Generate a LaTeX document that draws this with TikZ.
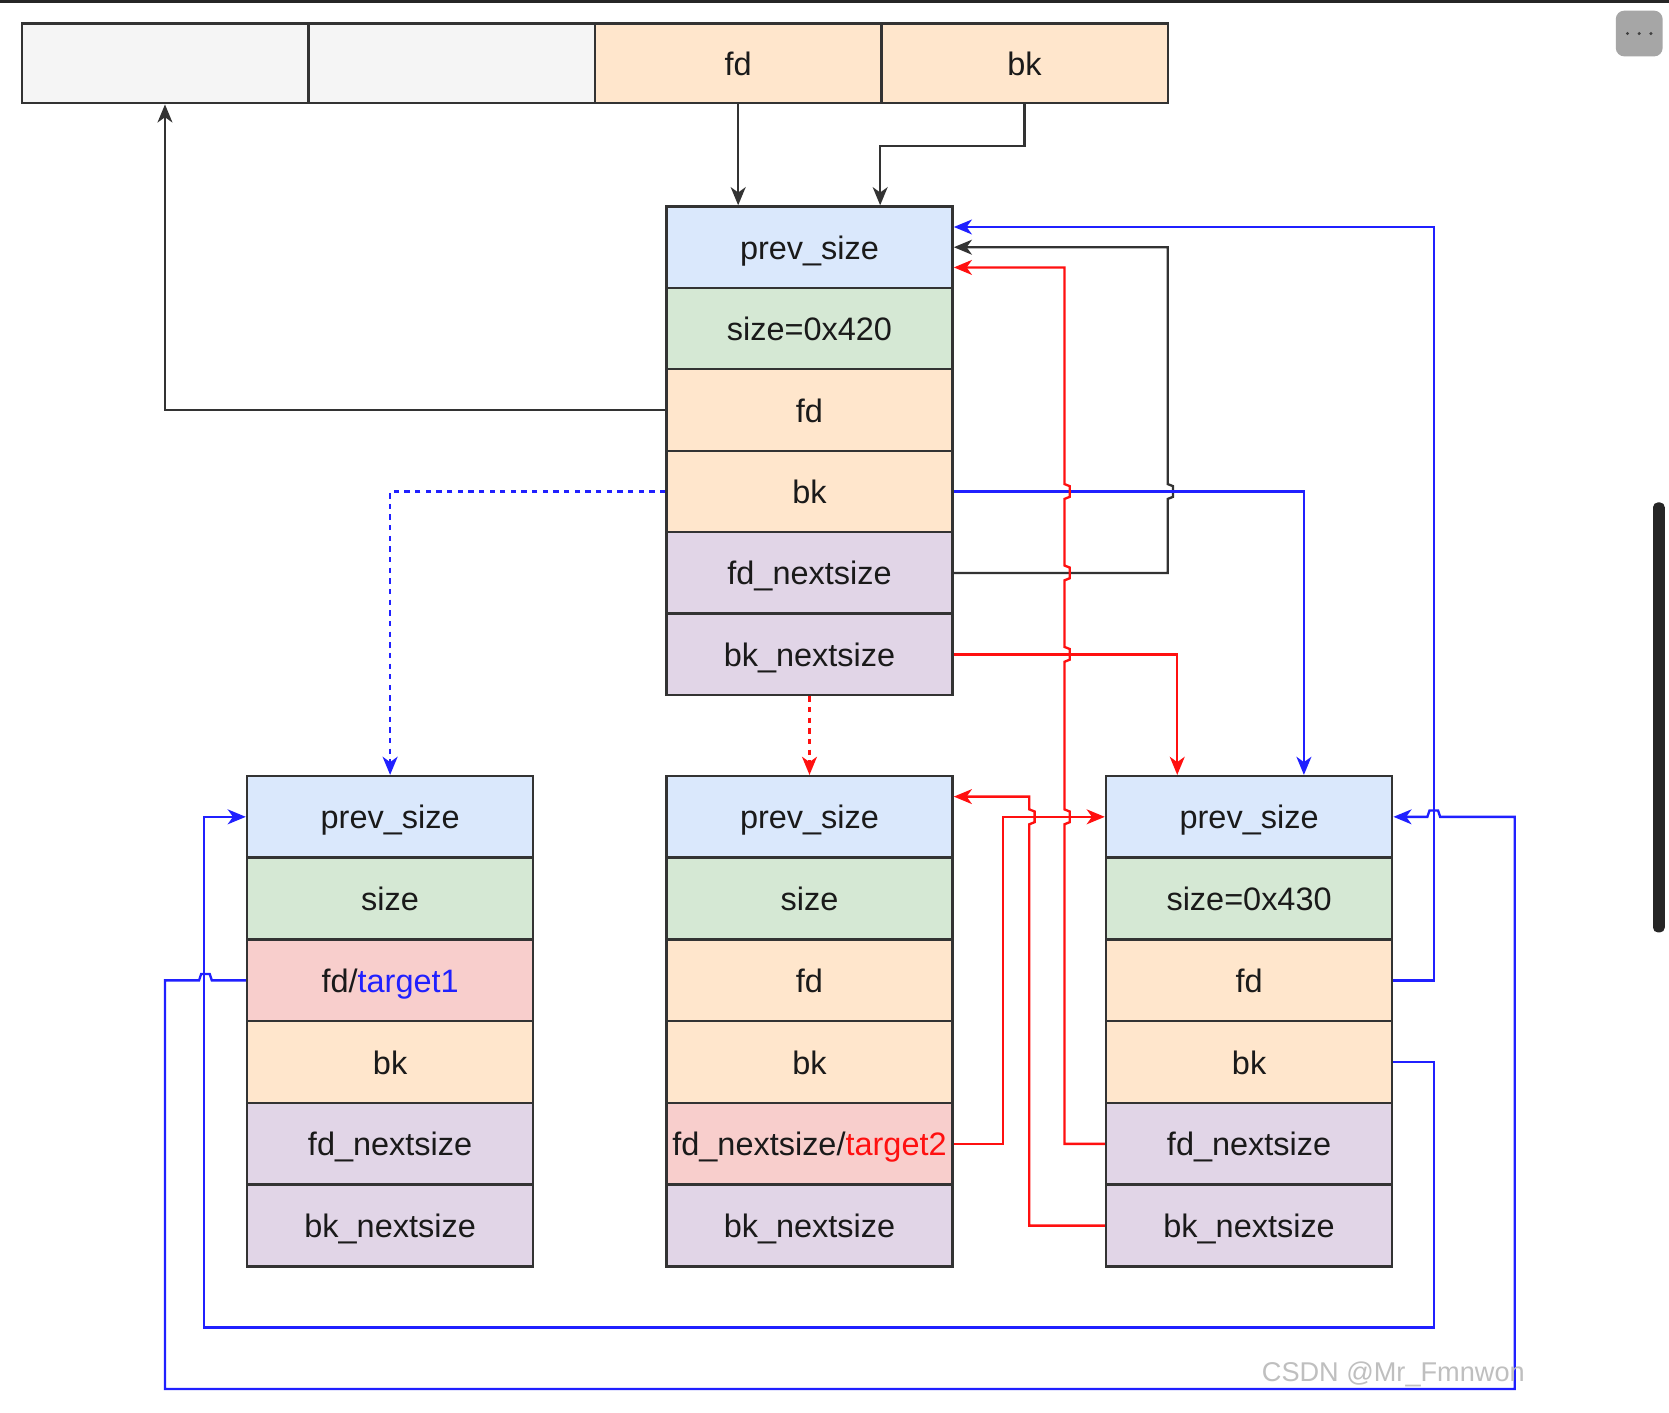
\documentclass[tikz,border=0pt]{standalone}
\usepackage{fontspec}
\setmainfont{Liberation Sans}
\usetikzlibrary{arrows.meta,calc}
\definecolor{cgray}{HTML}{F5F5F5}
\definecolor{cblue}{HTML}{DAE8FC}
\definecolor{cgreen}{HTML}{D5E8D4}
\definecolor{cpeach}{HTML}{FFE6CC}
\definecolor{cpurple}{HTML}{E1D5E7}
\definecolor{cred}{HTML}{F8CECC}
\definecolor{cstroke}{HTML}{333333}
\definecolor{ctext}{HTML}{1A1A1A}
\definecolor{lblue}{HTML}{2020FF}
\definecolor{lred}{HTML}{FF1010}
\definecolor{lblack}{HTML}{333333}
\begin{document}
\begin{tikzpicture}[x=1pt,y=-1pt,
  cell/.style={draw=cstroke, line width=2.2pt, minimum width=269pt, minimum height=76.6pt,
    inner sep=1pt, font=\fontsize{30.5}{36}\selectfont, text=ctext, anchor=center,
    text height=24pt, text depth=1.5pt},
  topcell/.style={cell, minimum height=75pt},
  pbl/.style={cell, fill=cblue},
  pgr/.style={cell, fill=cgreen},
  ppe/.style={cell, fill=cpeach},
  ppu/.style={cell, fill=cpurple},
  pre/.style={cell, fill=cred},
  arr/.style={-{Stealth[length=17pt,width=14pt,inset=5pt]}},
  wire/.style={line width=2.2pt, line join=miter},
  bw/.style={wire, draw=lblack},
  uw/.style={wire, draw=lblue},
  rw/.style={wire, draw=lred},
  dsh/.style={dash pattern=on 5pt off 5pt, line width=2.6pt}
]
\useasboundingbox (0,0) rectangle (1568,1327);
\fill[white] (0,0) rectangle (1568,1327);

% screenshot frame details
\fill[black!85] (0,0) rectangle (1568,2.5);
\fill[black!35, rounded corners=8pt] (1518,10) rectangle (1562,53);
\foreach \dx in {1529,1540,1551} \fill[black!75] (\dx,31.5) circle (1.6pt);
\fill[black!85, rounded corners=4.5pt] (1553,472) rectangle (1564,876);

% top bar
\node[topcell, fill=cgray] (t1)  at (155,59.5) {};
\node[topcell, fill=cgray] (t2)  at (424.5,59.5) {};
\node[topcell, fill=cpeach] (tfd) at (693.5,59.5) {fd};
\node[topcell, fill=cpeach] (tbk) at (962.5,59.5) {bk};

% main chunk
\node[pbl] (m1) at (760.5,232.25) {prev\_size};
\node[pgr] (m2) at (760.5,308.75) {size=0x420};
\node[ppe] (m3) at (760.5,385.25) {fd};
\node[ppe] (m4) at (760.5,461.75) {bk};
\node[ppu] (m5) at (760.5,538.25) {fd\_nextsize};
\node[ppu] (m6) at (760.5,614.75) {bk\_nextsize};

% left chunk
\node[pbl] (L1) at (366.5,767.4) {prev\_size};
\node[pgr] (L2) at (366.5,844.2) {size};
\node[pre] (L3) at (366.5,921) {fd/\textcolor{lblue}{target1}};
\node[ppe] (L4) at (366.5,997.8) {bk};
\node[ppu] (L5) at (366.5,1074.6) {fd\_nextsize};
\node[ppu] (L6) at (366.5,1151.4) {bk\_nextsize};

% middle chunk
\node[pbl] (M1) at (760.5,767.4) {prev\_size};
\node[pgr] (M2) at (760.5,844.2) {size};
\node[ppe] (M3) at (760.5,921) {fd};
\node[ppe] (M4) at (760.5,997.8) {bk};
\node[pre] (M5) at (760.5,1074.6) {fd\_nextsize/\textcolor{lred}{target2}};
\node[ppu] (M6) at (760.5,1151.4) {bk\_nextsize};

% right chunk
\node[pbl] (R1) at (1173.5,767.4) {prev\_size};
\node[pgr] (R2) at (1173.5,844.2) {size=0x430};
\node[ppe] (R3) at (1173.5,921) {fd};
\node[ppe] (R4) at (1173.5,997.8) {bk};
\node[ppu] (R5) at (1173.5,1074.6) {fd\_nextsize};
\node[ppu] (R6) at (1173.5,1151.4) {bk\_nextsize};

% black connectors
\draw[bw,arr] (tfd.south) -- (tfd.south |- m1.north);
\draw[bw,arr] (tbk.south) -- ++(0,39) -| (tbk.south west |- m1.north);
\draw[bw,arr] (m3.west) -| (t1.south);
\draw[bw,arr] (m5.east) -| (1097,468.75) -- (1102,466.75) -- (1102,456.75) -- (1097,454.75)
  -- (1097,232.25) -- (m1.east);

% blue connectors
\draw[uw,dsh,arr] (m4.west) -| (L1.north);
\draw[uw,arr] (m4.east) -| ($(R1.north)+(51.5,0)$);
\draw[uw,arr] (R3.east) -| (1347,213.25) -- ($(m1.east)+(0,-19)$);
\draw[uw,arr] (R4.east) -| (1347,1247) -| ($(L1.west)+(-39,0)$) -- (L1.west);
\draw[uw,arr] (L3.west) -- (199,921) -- (197,915) -- (189,915) -- (187,921) -- (155,921)
  -- (155,1305) -- (1423,1305) -- (1423,767.4) -- (1353,767.4) -- (1351,761.4) -- (1343,761.4)
  -- (1341,767.4) -- (R1.east);

% red connectors
\draw[rw,dsh,arr] (m6.south) -- (M1.north);
\draw[rw,arr] (m6.east) -| ($(R1.north)+(-67.5,0)$);
\draw[rw,arr] (R5.west) -- (1000,1074.6)
  -- (1000,774.4) -- (1005,772.4) -- (1005,762.4) -- (1000,760.4)
  -- (1000,621.75) -- (1005,619.75) -- (1005,609.75) -- (1000,607.75)
  -- (1000,545.25) -- (1005,543.25) -- (1005,533.25) -- (1000,531.25)
  -- (1000,468.75) -- (1005,466.75) -- (1005,456.75) -- (1000,454.75)
  -- (1000,251.25) -- ($(m1.east)+(0,19)$);
\draw[rw,arr] (R6.west) -- (967,1151.4)
  -- (967,774.4) -- (972,772.4) -- (972,762.4) -- (967,760.4)
  -- (967,748.4) -- ($(M1.east)+(0,-19)$);
\draw[rw,arr] (M5.east) -- (942,1074.6) -- (942,767.4) -- (R1.west);

% watermark
\node[text=black!25, font=\fontsize{25.5}{30}\selectfont, inner sep=0pt] (wm) at (1309,1291) {CSDN @Mr\_Fmnwon};
\end{tikzpicture}
\end{document}
